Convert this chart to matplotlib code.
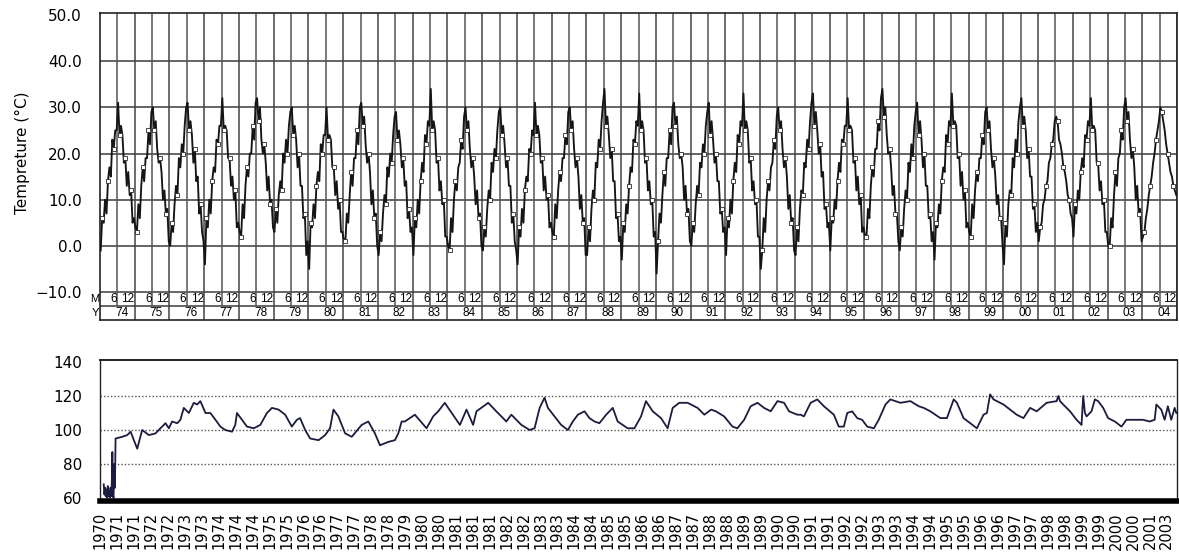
import numpy as np
import matplotlib
matplotlib.use("Agg")
import matplotlib.pyplot as plt
from matplotlib.transforms import ScaledTranslation, blended_transform_factory

# ---------------- data: top chart (semi-monthly temperature, deg C) ----------------
first_year = 1974
last_year = 2004
temp_1970s = [
    -1, 6, 5, 10, 7, 14, 17, 15, 23, 21, 25, 25, 31, 24, 26, 24, 18, 19, 13, 16, 11, 12, 5, 6,      # 1974
    4, 3, 9, 6, 13, 17, 14, 19, 19, 25, 22, 29, 30, 25, 27, 21, 18, 19, 16, 10, 12, 7, 8, 1,        # 1975
    0, 5, 3, 9, 13, 11, 19, 17, 22, 20, 26, 30, 31, 25, 27, 24, 18, 21, 14, 15, 7, 9, 3, 1,         # 1976
    -4, 6, 4, 10, 7, 14, 17, 16, 23, 22, 26, 26, 32, 25, 26, 25, 19, 19, 13, 15, 10, 12, 4, 5,      # 1977
    3, 2, 9, 6, 13, 17, 15, 20, 20, 26, 23, 31, 32, 27, 30, 23, 20, 22, 18, 12, 15, 9, 10, 4,       # 1978
    3, 8, 5, 11, 14, 12, 20, 18, 23, 20, 26, 29, 30, 24, 26, 23, 17, 20, 13, 13, 6, 7, -2, 1,       # 1979
]
temp_1980s = [
    -5, 5, 4, 9, 6, 13, 16, 14, 22, 20, 24, 24, 30, 23, 24, 23, 17, 17, 11, 14, 8, 10, 3, 3,        # 1980
    1, 1, 7, 5, 11, 16, 13, 19, 19, 25, 22, 30, 31, 26, 28, 22, 18, 20, 16, 9, 12, 6, 7, 0,         # 1981
    -2, 3, 1, 7, 11, 9, 17, 15, 20, 18, 24, 28, 29, 23, 25, 22, 17, 19, 13, 14, 6, 8, 3, 4,         # 1982
    -2, 6, 4, 10, 7, 14, 18, 16, 24, 22, 27, 26, 34, 25, 27, 25, 18, 19, 12, 14, 9, 10, 2, 2,       # 1983
    0, -1, 6, 3, 10, 14, 12, 17, 18, 23, 21, 28, 30, 25, 27, 21, 17, 19, 15, 9, 12, 6, 7, 0,        # 1984
    -1, 4, 2, 8, 12, 10, 18, 16, 21, 19, 25, 29, 30, 24, 26, 22, 17, 19, 13, 13, 5, 7, 1, -1,       # 1985
    -4, 4, 2, 8, 5, 12, 15, 14, 21, 20, 25, 24, 31, 24, 26, 24, 18, 19, 12, 15, 10, 11, 4, 5,       # 1986
    3, 2, 9, 6, 12, 16, 14, 19, 19, 24, 22, 29, 30, 25, 27, 21, 17, 19, 15, 8, 11, 5, 6, -2,        # 1987
    -2, 4, 1, 8, 12, 10, 18, 17, 23, 21, 27, 31, 34, 26, 28, 24, 19, 21, 14, 14, 6, 7, 1, 2,        # 1988
    -3, 5, 3, 9, 7, 13, 17, 16, 23, 22, 27, 26, 33, 25, 27, 25, 18, 19, 12, 14, 9, 10, 2, 3,        # 1989
]
temp_1990s = [
    -6, 1, 7, 5, 11, 16, 13, 19, 19, 25, 22, 30, 31, 26, 28, 22, 19, 20, 17, 10, 13, 7, 8, 1,       # 1990
    0, 5, 3, 9, 13, 11, 18, 17, 22, 20, 26, 29, 31, 24, 27, 23, 18, 20, 14, 14, 7, 8, 3, 4,         # 1991
    -2, 6, 4, 10, 7, 14, 18, 16, 24, 22, 27, 26, 33, 25, 27, 25, 18, 19, 12, 14, 9, 10, 2, 2,       # 1992
    -5, -1, 6, 3, 10, 14, 12, 17, 18, 23, 21, 28, 30, 25, 27, 21, 17, 19, 15, 8, 11, 5, 6, -1,      # 1993
    -2, 4, 1, 8, 12, 11, 18, 17, 23, 21, 27, 31, 33, 26, 29, 25, 20, 22, 15, 16, 8, 9, 4, 5,        # 1994
    -1, 6, 5, 10, 8, 14, 18, 16, 23, 22, 26, 26, 32, 25, 26, 25, 18, 19, 12, 15, 9, 11, 3, 4,       # 1995
    2, 2, 8, 6, 13, 17, 15, 21, 21, 27, 25, 32, 34, 28, 30, 24, 20, 21, 17, 11, 13, 7, 7, 1,        # 1996
    -1, 4, 2, 8, 12, 10, 18, 16, 22, 19, 26, 29, 31, 24, 27, 23, 17, 20, 13, 13, 6, 7, 1, 3,        # 1997
    -3, 5, 4, 9, 7, 14, 17, 16, 24, 22, 27, 26, 33, 26, 27, 26, 19, 20, 13, 16, 10, 12, 4, 5,       # 1998
    3, 2, 9, 6, 12, 16, 14, 19, 19, 24, 22, 29, 30, 25, 27, 21, 17, 19, 15, 9, 11, 6, 6, 0,         # 1999
]
temp_2000s = [
    -4, 5, 2, 9, 12, 11, 19, 17, 23, 20, 27, 30, 32, 26, 28, 25, 19, 21, 15, 15, 8, 9, 3, 5,        # 2000
    1, 4, 5, 9, 10, 13, 14, 18, 19, 22, 23, 27, 28, 27, 23, 22, 20, 17, 16, 14, 11, 10, 7, 6,       # 2001
    2, 9, 7, 12, 10, 16, 19, 17, 24, 23, 27, 26, 32, 25, 26, 25, 18, 18, 12, 14, 9, 10, 3, 3,       # 2002
    0, 0, 6, 4, 11, 16, 13, 19, 20, 25, 23, 30, 32, 27, 29, 23, 19, 21, 17, 10, 13, 7, 8, 1,        # 2003
    2, 3, 6, 8, 11, 13, 15, 18, 20, 23, 25, 27, 30, 29, 27, 25, 22, 20, 18, 16, 15, 13, 12, 11,     # 2004
]
temp_yticks = [-10, 0, 10, 20, 30, 40, 50]
temp_yticklabels = ["\u221210.0", "0.0", "10.0", "20.0", "30.0", "40.0", "50.0"]
month_labels = ["6", "12"]

# ---------------- data: bottom chart ----------------
idx_pos = [0.20, 0.24, 0.28, 0.32, 0.36, 0.40, 0.44, 0.48, 0.52, 0.56, 0.60, 0.64, 0.68, 0.71, 0.74, 0.78,
           0.82, 0.86, 0.90, 1.30, 1.59, 1.79, 1.98, 2.18, 2.47, 2.87, 3.26, 3.55, 3.85, 4.05, 4.24, 4.54,
           4.73, 4.93, 5.23, 5.52, 5.72, 5.91, 6.21, 6.50, 6.80, 7.09, 7.38, 7.78, 7.97, 8.07, 8.37, 8.66,
           9.06, 9.45, 9.84, 10.14, 10.53, 10.92, 11.31, 11.61, 11.80, 12.10, 12.39, 12.89, 13.28, 13.57,
           13.77, 14.06, 14.46, 14.85, 15.44, 15.83, 16.22, 16.52, 17.01, 17.40, 17.60, 17.80, 17.99, 18.58,
           19.27, 19.66, 19.96, 20.35, 20.55, 21.24, 21.63, 22.02, 22.22, 22.91, 23.39, 23.69, 23.98, 24.28,
           24.87, 25.36, 25.65, 25.95, 26.24, 26.44, 26.83, 27.22, 27.62, 27.91, 28.21, 28.60, 28.89, 29.19,
           29.48, 29.88, 30.27, 30.56, 30.86, 31.15, 31.55, 31.94, 32.23, 32.63, 33.12, 33.51, 33.81, 34.20,
           34.69, 35.28, 35.68, 36.08, 36.36, 36.85, 37.34, 37.63, 38.03, 38.42, 38.82, 39.21, 39.60, 40.00,
           40.39, 40.68, 41.17, 41.37, 41.56, 41.96, 42.35, 42.74, 43.33, 43.62, 43.92, 44.12, 44.41, 44.71,
           45.00, 45.30, 45.69, 45.98, 46.38, 46.67, 47.26, 47.85, 48.34, 48.64, 49.03, 49.62, 50.01, 50.41,
           50.60, 50.99, 51.38, 51.78, 52.17, 52.37, 52.56, 52.76, 53.35, 54.13, 54.53, 54.92, 55.31, 55.90,
           56.49, 56.59, 56.69, 56.88, 57.28, 57.67, 57.96, 58.06, 58.16, 58.26, 58.55, 58.75, 58.94, 59.24,
           59.53, 59.93, 60.32, 60.61, 61.00, 61.59, 61.98, 62.28, 62.38, 62.67, 62.87, 63.06, 63.26, 63.46,
           63.56]
idx_val = [68, 62, 66, 61, 65, 60, 67, 61, 64, 60, 66, 61, 70, 87, 62, 60,
           80, 66, 95, 96, 97, 99, 94, 89, 100, 97, 98, 101, 104, 101, 105, 104,
           106, 113, 110, 116, 115, 117, 110, 110, 106, 102, 100, 99, 103, 110, 106, 102,
           101, 103, 110, 113, 112, 109, 102, 106, 107, 100, 95, 94, 97, 101,
           112, 108, 98, 96, 103, 105, 98, 91, 93, 94, 98, 105, 105, 109,
           101, 108, 111, 116, 113, 103, 112, 103, 111, 116, 111, 108, 105, 109,
           103, 100, 101, 113, 119, 113, 108, 103, 100, 105, 109, 111, 107, 105,
           104, 109, 113, 105, 103, 101, 101, 108, 117, 111, 107, 101, 113, 116,
           116, 113, 109, 112, 111, 108, 102, 101, 106, 114, 116, 113, 111, 117,
           116, 111, 109, 109, 108, 116, 118, 114, 109, 102, 102, 110, 111, 107,
           106, 102, 101, 106, 115, 118, 116, 117, 114, 113, 111, 107, 107, 118,
           116, 107, 104, 101, 109, 110, 121, 118, 115, 109, 107, 113, 111, 116,
           117, 120, 117, 115, 111, 106, 103, 120, 110, 108, 111, 118, 117, 113,
           107, 105, 102, 106, 106, 106, 105, 106, 115, 112, 106, 114, 106, 113,
           110]
idx_labels = ["1970", "1971", "1971", "1972", "1972", "1973", "1973", "1974", "1974", "1974",
              "1975", "1975", "1976", "1976", "1977", "1977", "1978", "1978", "1979",
              "1980", "1980", "1981", "1981", "1981", "1982", "1982", "1983", "1983",
              "1984", "1984", "1985", "1985", "1986", "1986", "1987", "1987", "1988", "1988",
              "1989", "1989", "1990", "1990", "1991", "1991", "1992", "1992", "1993", "1993",
              "1994", "1994", "1995", "1995", "1996", "1996", "1997", "1997", "1998", "1998",
              "1999", "1999", "2000", "2000", "2001", "2003"]
idx_yticks = [60, 80, 100, 120, 140]
idx_grid = [80, 100, 120]

# ---------------- figure ----------------
W, H = 1179, 559
fig = plt.figure(figsize=(W / 100, H / 100), dpi=100)


def px_axes(l, t, r, b):
    return fig.add_axes([l / W, 1 - b / H, (r - l) / W, (b - t) / H])


FONT = "DejaVu Sans"
SMALL = ["Liberation Sans Narrow", "Liberation Sans", "DejaVu Sans"]
grid_c = "#3a3a3a"

# ---- top chart ----
ax1 = px_axes(100, 13, 1177, 320)
ymin1, ymax1 = -16.06, 50.43
row_split = -12.92
ax1.set_xlim(first_year, last_year + 1)
ax1.set_ylim(ymin1, ymax1)
for s in ax1.spines.values():
    s.set_color("#222222")
    s.set_linewidth(1.2)

for v in [-10, 0, 10, 20, 30, 40]:
    ax1.axhline(v, color=grid_c, lw=1.1, zorder=1)
ax1.axhline(row_split, color=grid_c, lw=1.1, zorder=1)

years = np.arange(first_year, last_year + 1)
ax1.vlines(years + 0.5, row_split, ymax1, color="#555555", lw=1.1, zorder=1)
ax1.vlines(years + 1, ymin1, ymax1, color="#444444", lw=1.1, zorder=1)

temps = np.array(temp_1970s + temp_1980s + temp_1990s + temp_2000s, dtype=float)
t = first_year + (np.arange(len(temps)) + 0.5) / 24.0
ax1.plot(t, temps, color="#151515", lw=1.35, zorder=3)
ax1.plot(t[1::4], temps[1::4], ls="none", marker="s", ms=2.8, mfc="white",
         mec="#2a2a2a", mew=0.6, zorder=4)

ax1.set_yticks(temp_yticks)
ax1.set_yticklabels(temp_yticklabels, fontsize=11, family=FONT)
ax1.tick_params(axis="y", length=0, pad=13)
ax1.set_xticks([])

off = ScaledTranslation(-0.5 / 100, 0, fig.dpi_scale_trans)
m_y = (-10 + row_split) / 2
y_y = (row_split + ymin1) / 2
for yr in years:
    for k, lab in enumerate(month_labels):
        ax1.text(yr + 0.5 * (k + 1), m_y, lab, ha="right", va="center", fontsize=8.5,
                 family=SMALL, transform=ax1.transData + off, zorder=4)
    ax1.text(yr + 0.62, y_y, "%02d" % (yr % 100), ha="center", va="center", fontsize=8.5,
             family=SMALL, zorder=4)
bt = blended_transform_factory(ax1.transAxes, ax1.transData)
ax1.text(-0.001, m_y, "M", ha="right", va="center", fontsize=8, family=SMALL, transform=bt)
ax1.text(-0.001, y_y, "Y", ha="right", va="center", fontsize=8, family=SMALL, transform=bt)

fig.text(22 / W, 1 - 153 / H, "Tempreture (\u00b0C)", rotation=90, ha="center", va="center",
         fontsize=11, family=FONT)

# ---- bottom chart ----
ax2 = px_axes(100, 360, 1177, 501)
ax2.set_xlim(-0.02, 63.6)
ax2.set_ylim(58.2, 141.2)
for v in idx_grid:
    ax2.axhline(v, color="#555555", lw=1.0, ls=(0, (1, 1.5)), zorder=1)
ax2.plot(idx_pos, idx_val, color="#1c1c40", lw=1.3, zorder=3)
for side in ["top", "left", "right"]:
    ax2.spines[side].set_color("#222222")
ax2.spines["top"].set_linewidth(1.4)
ax2.spines["left"].set_linewidth(1.0)
ax2.spines["right"].set_linewidth(1.0)
ax2.spines["bottom"].set_linewidth(4.0)
ax2.spines["bottom"].set_color("black")
ax2.set_yticks(idx_yticks)
ax2.set_yticklabels([str(v) for v in idx_yticks], fontsize=11, family=FONT)
ax2.tick_params(axis="y", length=0, pad=13)
ax2.set_xticks(np.arange(len(idx_labels)))
ax2.set_xticklabels(idx_labels, rotation=90, fontsize=10.5, family=FONT)
ax2.tick_params(axis="x", length=0, pad=8)

fig.savefig("out.png", dpi=100, facecolor="white")
